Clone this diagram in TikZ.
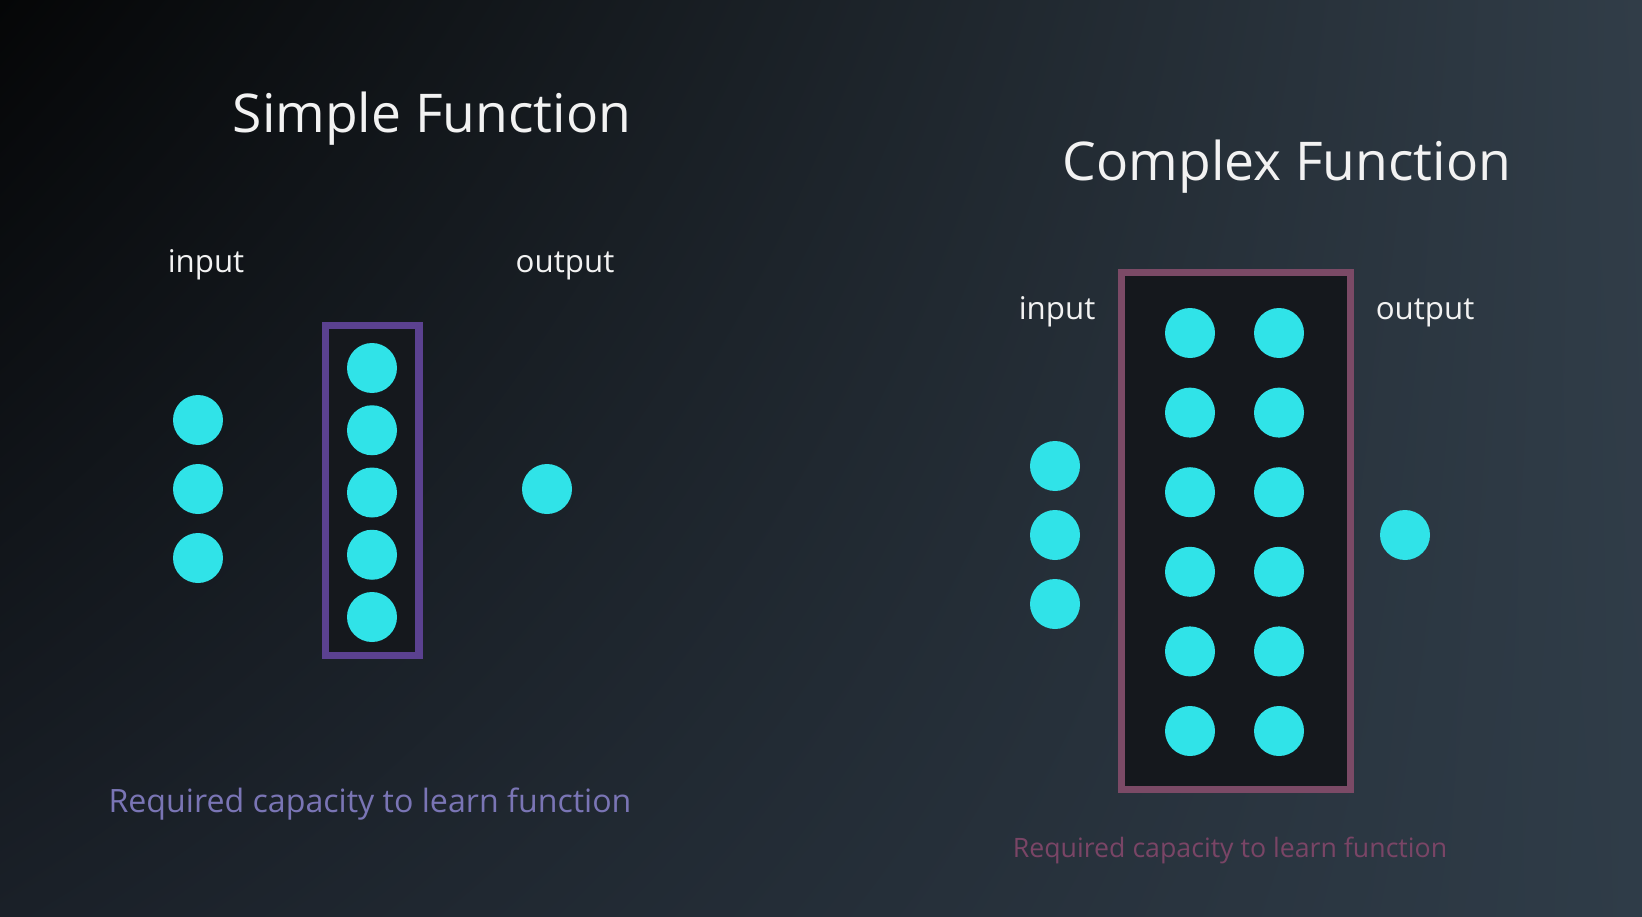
\documentclass[tikz,border=0pt]{standalone}
\usepackage{fontspec}
\setmainfont{Open Sans}
\usepackage{tikz}
\usetikzlibrary{positioning,calc,shadings}
\usepackage{xcolor}
\definecolor{neuronCyan}{HTML}{30E3E8}
\definecolor{boxDark}{HTML}{15181D}
\definecolor{simpleViolet}{HTML}{5B4190}
\definecolor{complexMauve}{HTML}{7B4A66}
\definecolor{capViolet}{HTML}{7A75B5}
\definecolor{capMauve}{HTML}{7A4566}
\definecolor{labelWhite}{HTML}{F2F2F2}
\definecolor{bgUL}{RGB}{5,6,7}
\definecolor{bgUR}{RGB}{49,61,72}
\definecolor{bgLL}{RGB}{26,32,40}
\definecolor{bgLR}{RGB}{47,60,72}

\begin{document}
\begin{tikzpicture}[
        x=0.02cm, y=-0.02cm,
        neuron/.style={circle, fill=neuronCyan, inner sep=0pt, minimum size=1cm},
        layerBox/.style={rectangle, fill=boxDark, line width=4pt, inner sep=0pt},
        titleText/.style={text=labelWhite, font=\fontsize{30.4}{36}\selectfont, anchor=base},
        ioLabel/.style={text=labelWhite, font=\fontsize{17.8}{22}\selectfont, anchor=base},
        capText/.style={font=\fontsize{18.3}{22}\selectfont, anchor=base}
    ]
        % Sfondo
        \useasboundingbox (0,0) rectangle (1642,916);
        \shade[upper left=bgUL, upper right=bgUR, lower left=bgLL, lower right=bgLR]
            (0,0) rectangle (1642,916);

        % Simple function
        \node[titleText] (simpleTitle) at (432,132) {Simple Function};
        \node[ioLabel] (simpleIn) at (206,272) {input};
        \node[ioLabel] (simpleOut) at (565,272) {output};
        \node[layerBox, draw=simpleViolet, minimum width=1.88cm, minimum height=6.62cm] (simpleHidden) at (372,490.5) {};
        \foreach \i in {0,1,2}
            \node[neuron] (sIn\i) at (198,420+69*\i) {};
        \foreach \i in {0,...,4}
            \node[neuron] (sHid\i) at (372,368+62.25*\i) {};
        \node[neuron] (sOut) at (547,489) {};
        \node[capText, text=capViolet] (simpleCap) at (370,812) {Required capacity to learn function};

        % Complex function
        \node[titleText] (complexTitle) at (1287,180) {Complex Function};
        \node[ioLabel] (complexIn) at (1057,319) {input};
        \node[ioLabel] (complexOut) at (1425,319) {output};
        \node[layerBox, draw=complexMauve, minimum width=4.58cm, minimum height=10.34cm] (complexHidden) at (1236,531) {};
        \foreach \i in {0,1,2}
            \node[neuron] (cIn\i) at (1055,466+69*\i) {};
        \foreach \i in {0,...,5} {
            \node[neuron] (cHidA\i) at (1190,333+79.6*\i) {};
            \node[neuron] (cHidB\i) at (1279,333+79.6*\i) {};
        }
        \node[neuron] (cOut) at (1405,535) {};
        \node[capText, text=capMauve, font=\fontsize{15.2}{19}\selectfont] (complexCap) at (1230,857) {Required capacity to learn function};
    \end{tikzpicture}
\end{document}
